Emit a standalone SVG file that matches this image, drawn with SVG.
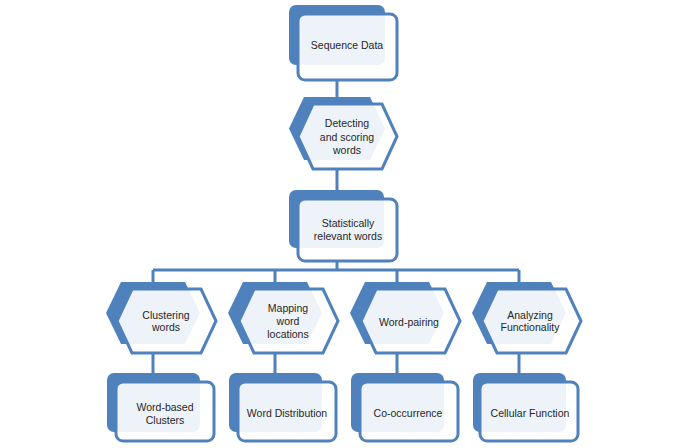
<svg xmlns="http://www.w3.org/2000/svg" width="685" height="448" viewBox="0 0 685 448">
<style>
.back{fill:#4F81BD;}
.front{fill:#FFFFFF;fill-opacity:0.9;stroke:#4F81BD;stroke-width:3;}
.conn{stroke:#4F81BD;stroke-width:3;fill:none;}
text{font-family:"Liberation Sans",Arial,sans-serif;font-size:10.5px;fill:#262626;text-anchor:middle;}
</style>
<rect width="685" height="448" fill="#FFFFFF"/>
<g id="connectors">
<path class="conn" d="M337,81 V98 M337,168 V191 M337,261 V270 M153,270 H519 M153,270 V283 M275,270 V283 M397,270 V283 M519,270 V283 M153,353 V374 M275,353 V374 M397,353 V374 M519,353 V374"/>
</g>
<g id="sequence-data">
<rect class="back" x="289" y="5" width="96" height="60" rx="7"/>
<rect class="front" x="298" y="14" width="99" height="66" rx="7"/>
<text x="347" y="49">Sequence Data</text>
</g>
<g id="detecting">
<path class="back" d="M289,128.5 L304,97 L370,97 L385,128.5 L370,160 L304,160 Z"/>
<path class="front" d="M298,136.5 L313,104 L382,104 L397,136.5 L382,169 L313,169 Z"/>
<text x="347" y="127">Detecting</text>
<text x="347" y="141">and scoring</text>
<text x="347" y="154">words</text>
</g>
<g id="statistically">
<rect class="back" x="289" y="190" width="95" height="58" rx="7"/>
<rect class="front" x="298" y="199" width="99" height="62" rx="7"/>
<text x="348" y="227">Statistically</text>
<text x="348" y="240">relevant words</text>
</g>
<g id="clustering">
<path class="back" d="M106,313 L121,282 L185,282 L200,313 L185,344 L121,344 Z"/>
<path class="front" d="M117,321 L132,289 L201,289 L216,321 L201,353 L132,353 Z"/>
<text x="166" y="319">Clustering</text>
<text x="166" y="331">words</text>
</g>
<g id="mapping">
<path class="back" d="M228,313 L243,282 L307,282 L322,313 L307,344 L243,344 Z"/>
<path class="front" d="M239,321 L254,289 L323,289 L338,321 L323,353 L254,353 Z"/>
<text x="288" y="312">Mapping</text>
<text x="288" y="325">word</text>
<text x="288" y="338">locations</text>
</g>
<g id="word-pairing">
<path class="back" d="M350,313 L365,282 L429,282 L444,313 L429,344 L365,344 Z"/>
<path class="front" d="M361,321 L376,289 L445,289 L460,321 L445,353 L376,353 Z"/>
<text x="409" y="326">Word-pairing</text>
</g>
<g id="analyzing">
<path class="back" d="M472,313 L487,282 L551,282 L566,313 L551,344 L487,344 Z"/>
<path class="front" d="M482,321 L497,289 L566,289 L581,321 L566,353 L497,353 Z"/>
<text x="530" y="319">Analyzing</text>
<text x="530" y="331">Functionality</text>
</g>
<g id="word-based-clusters">
<rect class="back" x="107" y="373" width="93" height="59" rx="7"/>
<rect class="front" x="116" y="382" width="98" height="59" rx="7"/>
<text x="165" y="411">Word-based</text>
<text x="165" y="424">Clusters</text>
</g>
<g id="word-distribution">
<rect class="back" x="229" y="373" width="93" height="59" rx="7"/>
<rect class="front" x="238" y="382" width="98" height="59" rx="7"/>
<text x="287" y="417">Word Distribution</text>
</g>
<g id="co-occurrence">
<rect class="back" x="351" y="373" width="93" height="59" rx="7"/>
<rect class="front" x="360" y="382" width="98" height="59" rx="7"/>
<text x="408" y="417">Co-occurrence</text>
</g>
<g id="cellular-function">
<rect class="back" x="473" y="373" width="93" height="59" rx="7"/>
<rect class="front" x="480" y="382" width="98" height="59" rx="7"/>
<text x="530" y="417">Cellular Function</text>
</g>
</svg>
